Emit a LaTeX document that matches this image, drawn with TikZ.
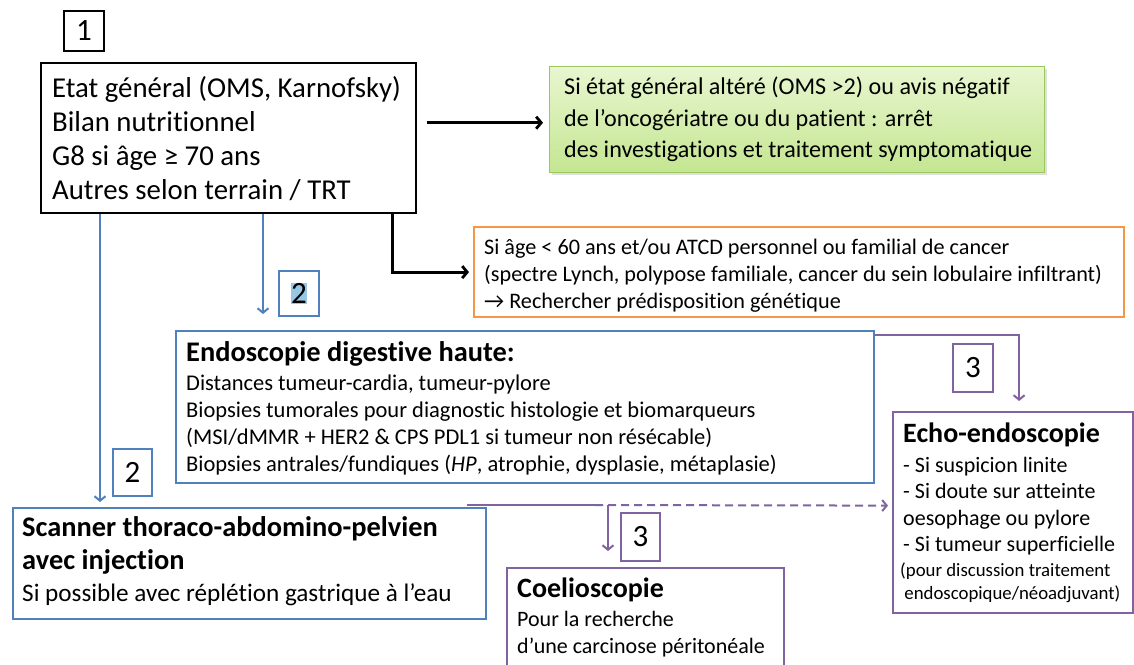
\documentclass[tikz,border=0pt]{standalone}
\usepackage{fontspec}
\setmainfont{Carlito}[Ligatures={TeX,NoCommon}]
\usetikzlibrary{arrows.meta,calc,shadows}
\definecolor{cblue}{RGB}{79,129,189}
\definecolor{corange}{RGB}{247,150,70}
\definecolor{cpurple}{RGB}{128,100,162}
\definecolor{cgreen}{RGB}{155,200,90}
\definecolor{gtop}{RGB}{232,246,208}
\definecolor{gbot}{RGB}{196,230,145}
\definecolor{hilite}{RGB}{150,200,230}
\tikzset{
  box/.style={draw, line width=2.2pt, anchor=north west, inner sep=0pt},
  numbox/.style={draw, line width=2pt, anchor=north west, inner sep=0pt, font=\fontsize{31}{34}\selectfont},
  txt/.style={anchor=north west, inner sep=0pt, align=left},
  arr/.style={line width=2.8pt, -{Straight Barb[length=5pt,width=12pt,line width=2.8pt]}},
  thinarr/.style={line width=2pt, -{Straight Barb[length=4.5pt,width=11pt,line width=2pt]}},
}
\begin{document}
\begin{tikzpicture}[x=1pt,y=-1pt]
\clip (0,0) rectangle (1134,664);
\fill[white] (0,0) rectangle (1134,664);
% number boxes
\node[numbox, minimum width=40pt, minimum height=40pt] (n1) at (63,10) {1};
\node[numbox, draw=cblue, minimum width=40pt, minimum height=45pt] (n2a) at (278,270) {\setlength{\fboxsep}{0pt}\colorbox{hilite}{2}};
\node[numbox, draw=cblue, minimum width=39pt, minimum height=47pt] (n2b) at (112,448) {2};
\node[numbox, draw=cpurple, minimum width=40pt, minimum height=48pt] (n3a) at (952,343) {3};
\node[numbox, draw=cpurple, minimum width=39pt, minimum height=48pt] (n3b) at (620,512) {3};
% main box
\node[box, minimum width=375pt, minimum height=150pt] (main) at (40,62) {};
\node[txt, font=\fontsize{28.8}{34}\selectfont] (maint) at (52,76) {Etat général (OMS, Karnofsky)\\Bilan nutritionnel\\G8 si âge ≥ 70 ans\\Autres selon terrain / TRT};
% green box
\node[box, draw=cgreen, line width=1.4pt, top color=gtop, bottom color=gbot, drop shadow={opacity=0.25, shadow xshift=2pt, shadow yshift=-2pt}, minimum width=495pt, minimum height=106pt] (green) at (549,66) {};
\node[txt, font=\fontsize{24.1}{31.5}\selectfont] (greent) at (564,77) {Si état général altéré (OMS >2) ou avis négatif\\de l’oncogériatre ou du patient : arrêt\\des investigations et traitement symptomatique};
% orange box
\node[box, draw=corange, minimum width=650pt, minimum height=90pt] (orange) at (473,226) {};
\node[txt, font=\fontsize{22.2}{26.8}\selectfont] (oranget) at (484,239) {Si âge < 60 ans et/ou ATCD personnel ou familial de cancer\\(spectre Lynch, polypose familiale, cancer du sein lobulaire infiltrant)\\→ Rechercher prédisposition génétique};
% endoscopy
\node[box, draw=cblue, minimum width=698pt, minimum height=152pt] (endo) at (175,330) {};
\node[txt, font=\fontsize{28.4}{32}\bfseries\selectfont] (endot) at (186,341) {Endoscopie digestive haute:};
\node[txt, font=\fontsize{22.5}{26.8}\selectfont] (endob) at (186,375) {Distances tumeur-cardia, tumeur-pylore\\Biopsies tumorales pour diagnostic histologie et biomarqueurs\\(MSI/dMMR + HER2 \& CPS PDL1 si tumeur non résécable)\\Biopsies antrales/fundiques (\textit{HP}, atrophie, dysplasie, métaplasie)};
% scanner
\node[box, draw=cblue, minimum width=473pt, minimum height=111pt] (scan) at (12,507) {};
\node[txt, font=\fontsize{28.4}{33}\bfseries\selectfont] (scant) at (22,516) {Scanner thoraco-abdomino-pelvien\\avec injection};
\node[txt, font=\fontsize{25.2}{27}\selectfont] (scanb) at (22,584) {Si possible avec réplétion gastrique à l’eau};
% echo
\node[box, draw=cpurple, minimum width=240pt, minimum height=201pt] (echo) at (892,411) {};
\node[txt, font=\fontsize{28}{32}\bfseries\selectfont] (echot) at (903,423) {Echo-endoscopie};
\node[txt, font=\fontsize{22}{26.5}\selectfont] (echob) at (903,457) {- Si suspicion linite\\- Si doute sur atteinte\\oesophage ou pylore\\- Si tumeur superficielle};
\node[txt, font=\fontsize{18.8}{22.5}\selectfont] (echos) at (900,563) {(pour discussion traitement\\\ endoscopique/néoadjuvant)};
% coelio
\node[box, draw=cpurple, minimum width=277pt, minimum height=120pt] (coel) at (506,567) {};
\node[txt, font=\fontsize{28}{32}\bfseries\selectfont] (coelt) at (517,578) {Coelioscopie};
\node[txt, font=\fontsize{22}{27}\selectfont] (coelb) at (517,611) {Pour la recherche\\d’une carcinose péritonéale};
% connectors
\draw[arr] ($(main.east |- green.west)+(10,3)$) -- ($(green.west)+(-6,3)$);
\draw[arr] ($(main.south east)+(-25,0)$) |- ($(orange.west)+(-4,0)$);
\draw[thinarr, cblue] (main.south -| 100,0) -- ($(scan.north -| 100,0)+(0,-5)$);
\draw[thinarr, cblue] (main.south -| 263,0) -- ($(endo.north -| 263,0)+(0,-16)$);
\draw[thinarr, cpurple] ($(endo.north east)+(0,5)$) -| ($(echo.north)+(6,-10)$);
\coordinate (split) at (467,505);
\coordinate (dash0) at (595,505);
\draw[line width=2pt, cpurple] (split) -- (dash0);
\draw[thinarr, cpurple, dashed, dash pattern=on 8pt off 5pt] (dash0) -- ($(echo.west)+(-4,-7)$);
\draw[thinarr, cpurple] (split -| 608,0) -- ($(coel.north -| 608,0)+(0,-16)$);
\end{tikzpicture}
\end{document}
